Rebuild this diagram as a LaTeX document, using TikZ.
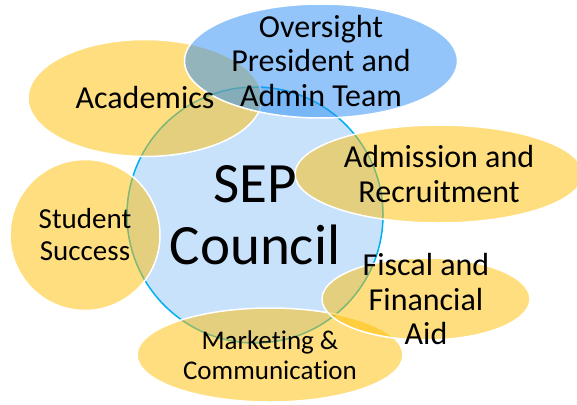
\documentclass[tikz,border=0pt]{standalone}
\usepackage{fontspec}
\setmainfont{Carlito}[Ligatures=NoCommon]
\usetikzlibrary{shapes.geometric}
\definecolor{groupyellow}{RGB}{255,190,0}
\definecolor{oversightblue}{RGB}{40,140,245}
\definecolor{councilfill}{RGB}{200,226,251}
\definecolor{councilline}{RGB}{0,176,240}
\tikzset{
  bubble/.style={ellipse, draw=white, line width=1.5pt, fill=groupyellow, fill opacity=0.5, inner sep=0pt},
  grouptext/.style={align=center, font=\fontsize{32}{34.5}\selectfont},
  smalltext/.style={align=center, font=\fontsize{27}{30}\selectfont},
}
\begin{document}
\begin{tikzpicture}[x=1pt,y=-1pt]
    \useasboundingbox (0,0) rectangle (577,404);
    % Council
    \node[circle, draw=councilline, line width=1.5pt, fill=councilfill, minimum size=256pt, inner sep=0pt] (council) at (255,215) {};
    % Groups
    \node[bubble, minimum width=234pt, minimum height=117pt] (acad) at (145,98) {};
    \node[bubble, minimum width=150pt, minimum height=151pt] (student) at (85,235) {};
    \node[bubble, minimum width=288pt, minimum height=98pt] (admission) at (439,174) {};
    \node[bubble, minimum width=266pt, minimum height=94pt] (marketing) at (270,355) {};
    \node[bubble, minimum width=208pt, minimum height=82pt] (fiscal) at (426,299) {};
    \node[bubble, fill=oversightblue, minimum width=273pt, minimum height=114pt] (oversight) at (321,61) {};
    % Labels
    \node[align=center, font=\fontsize{57}{62}\selectfont] (counciltxt) at (council) {SEP\\Council};
    \node[grouptext] (acadtxt) at (acad) {Academics};
    \node[smalltext, font=\fontsize{29}{32}\selectfont] (studenttxt) at (student) {Student\\Success};
    \node[grouptext] (admissiontxt) at (admission) {Admission and\\Recruitment};
    \node[smalltext] (marketingtxt) at (marketing) {Marketing \&\\Communication};
    \node[grouptext] (fiscaltxt) at (fiscal) {Fiscal and\\Financial\\Aid};
    \node[grouptext] (oversighttxt) at (oversight) {Oversight\\President and\\Admin Team};
\end{tikzpicture}
\end{document}
